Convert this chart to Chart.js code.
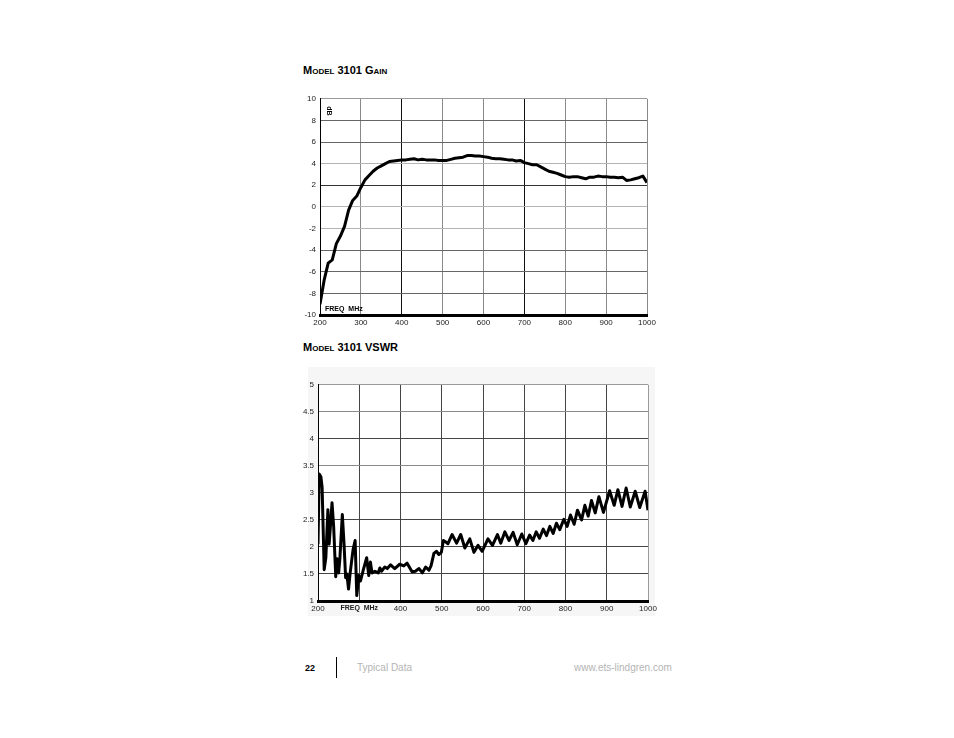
<!DOCTYPE html>
<html>
<head>
<meta charset="utf-8">
<script src="https://cdn.jsdelivr.net/npm/chart.js@4.4.1/dist/chart.umd.min.js"></script>
<style>
    body { margin: 0; background: #fff; width: 954px; height: 738px; position: relative; overflow: hidden;
           font-family: "Liberation Sans", Arial, sans-serif; }
    .title { position: absolute; left: 303px; font-size: 11px; font-weight: bold; font-variant: small-caps; color: #000; }
    .box { position: absolute; }
    .foot { position: absolute; top: 662px; font-size: 10px; }
</style>
</head>
<body>
<div class="title" style="top:64px">Model 3101 Gain</div>
<div class="box" style="left:290px; top:90px; width:372px; height:243px"><canvas id="gain-graph"></canvas></div>

<div class="title" style="top:341px">Model 3101 VSWR</div>
<div class="box" style="left:308px; top:367px; width:347px; height:249px; background:#f6f6f6"></div>
<div class="box" style="left:288px; top:376px; width:375px; height:243px"><canvas id="vswr-graph"></canvas></div>

<div class="foot" style="left:305px; font-weight:bold; font-size:9px; top:663px">22</div>
<div class="box" style="left:336px; top:657px; width:1px; height:21px; background:#000"></div>
<div class="foot" style="left:357px; color:#b4b4b4">Typical Data</div>
<div class="foot" style="left:574px; color:#b4b4b4">www.ets-lindgren.com</div>

<script>
// gain, dB vs MHz
const gainFreq = [200, 210, 220, 230, 240, 250, 260, 270, 280, 290,
    300, 310, 320, 330, 340, 350, 360, 370, 380, 390,
    400, 410, 420, 430, 440, 450, 460, 470, 480, 490,
    500, 510, 520, 530, 540, 550, 560, 570, 580, 590,
    600, 610, 620, 630, 640, 650, 660, 670, 680, 690,
    700, 710, 720, 730, 740, 750, 760, 770, 780, 790,
    800, 810, 820, 830, 840, 850, 860, 870, 880, 890,
    900, 910, 920, 930, 940, 950, 960, 970, 980, 990, 1000];
const gainDb = [-9.0, -6.8, -5.2, -4.9, -3.4, -2.7, -1.8, -0.3, 0.6, 1.0,
    1.8, 2.5, 2.9, 3.3, 3.6, 3.8, 4.0, 4.2, 4.25, 4.3,
    4.35, 4.35, 4.4, 4.45, 4.35, 4.4, 4.35, 4.35, 4.35, 4.3,
    4.3, 4.3, 4.4, 4.5, 4.55, 4.6, 4.75, 4.75, 4.7, 4.7,
    4.65, 4.6, 4.5, 4.45, 4.45, 4.4, 4.35, 4.35, 4.25, 4.3,
    4.1, 4.0, 3.9, 3.9, 3.7, 3.5, 3.3, 3.2, 3.1, 2.95,
    2.8, 2.75, 2.8, 2.8, 2.7, 2.6, 2.75, 2.75, 2.85, 2.8,
    2.8, 2.75, 2.75, 2.7, 2.75, 2.45, 2.5, 2.6, 2.7, 2.85, 2.25];

// vswr vs MHz
const vswrFreq = [200, 203, 207, 210, 215, 219, 224, 227, 230, 234,
    238, 243, 246, 250, 253, 259, 263, 267, 270, 274,
    278, 285, 290, 294, 299, 303, 310, 318, 323, 327,
    331, 338, 346, 350, 354, 362, 368, 376, 386, 398,
    408, 416, 428, 436, 445, 453, 461, 469, 474, 481,
    487, 493, 499, 504, 510, 515, 525, 536, 546, 556,
    568, 578, 588, 598, 612, 623, 635, 643, 653, 663,
    673, 683, 694, 704, 713, 721, 729, 737, 746, 754,
    762, 770, 778, 786, 796, 804, 812, 821, 829, 839,
    847, 855, 863, 872, 881, 892, 907, 918, 927, 937,
    947, 957, 969, 980, 993, 1000];
const vswrValue = [2.05, 3.35, 3.3, 3.1, 1.58, 1.8, 2.69, 2.05, 2.37, 2.82,
    2.37, 1.45, 1.78, 1.52, 1.78, 2.6, 2.07, 1.43, 1.5, 1.22,
    1.52, 1.95, 2.12, 1.1, 1.47, 1.37, 1.58, 1.8, 1.47, 1.72,
    1.52, 1.55, 1.52, 1.61, 1.55, 1.63, 1.6, 1.67, 1.6, 1.68,
    1.65, 1.7, 1.54, 1.55, 1.6, 1.52, 1.63, 1.57, 1.65, 1.88,
    1.92, 1.86, 1.9, 2.12, 2.09, 2.06, 2.23, 2.07, 2.23, 1.98,
    2.15, 1.9, 2.03, 1.92, 2.15, 2.03, 2.23, 2.07, 2.28, 2.12,
    2.27, 2.04, 2.24, 2.06, 2.22, 2.12, 2.28, 2.16, 2.33, 2.21,
    2.38, 2.25, 2.44, 2.32, 2.51, 2.38, 2.59, 2.42, 2.68, 2.5,
    2.77, 2.57, 2.86, 2.63, 2.93, 2.64, 3.04, 2.77, 3.06, 2.75,
    3.09, 2.74, 3.03, 2.73, 3.03, 2.68];

const tickFont = { family: "'Liberation Sans Narrow', 'Liberation Sans', Arial", size: 8 };

function toPoints(xs, ys) {
    let pts = Array(xs.length);
    for (let i = 0; i < xs.length; i++) {
        pts[i] = { x: xs[i], y: ys[i] };
    }
    return pts;
}

function plainLabel(v) {
    return String(v);
}

// white plot area + text inside the plot
const plotDeco = {
    id: 'plotDeco',
    beforeDraw(chart) {
        let a = chart.chartArea;
        let ctx = chart.ctx;
        ctx.save();
        ctx.fillStyle = '#fff';
        ctx.fillRect(a.left, a.top, a.right - a.left, a.bottom - a.top);
        ctx.restore();
    },
    afterDraw(chart, args, opts) {
        if (!opts.inner) return;
        let a = chart.chartArea;
        let ctx = chart.ctx;
        ctx.save();
        ctx.fillStyle = '#000';
        ctx.font = "bold 7px 'Liberation Sans', Arial";
        ctx.textBaseline = 'alphabetic';
        ctx.fillText('FREQ  MHz', a.left + 5, a.bottom - 4);
        ctx.translate(a.left + 9, a.top + 12);
        ctx.rotate(Math.PI / 2);
        ctx.textAlign = 'center';
        ctx.textBaseline = 'middle';
        ctx.fillText('dB', 0, 0);
        ctx.restore();
    }
};

function buildGraph(id, pts, xGrid, yGrid, yOpts, xTicks, inner, topPad) {
    new Chart(document.getElementById(id), {
        type: 'line',
        data: {
            datasets: [{
                data: pts,
                borderColor: '#000',
                borderWidth: 3,
                pointRadius: 0,
                tension: 0,
                borderJoinStyle: 'round',
                fill: false
            }]
        },
        options: {
            responsive: true,
            maintainAspectRatio: false,
            animation: false,
            layout: { padding: { top: topPad, right: 15, left: 0, bottom: 0 } },
            plugins: {
                legend: { display: false },
                tooltip: { enabled: false },
                plotDeco: { inner: inner }
            },
            scales: {
                x: {
                    type: 'linear',
                    min: 200,
                    max: 1000,
                    afterFit: function (s) { s.height = 18; },
                    ticks: Object.assign({ stepSize: 100, color: '#222', padding: 3, maxRotation: 0, callback: plainLabel }, xTicks),
                    grid: { color: xGrid, lineWidth: 1, drawTicks: false },
                    border: { display: true, color: '#000', width: 3 }
                },
                y: Object.assign({
                    afterFit: function (s) { s.width = 30; },
                    grid: { color: yGrid, lineWidth: 1, drawTicks: false },
                    border: { display: true, color: '#000', width: 1 }
                }, yOpts)
            }
        },
        plugins: [plotDeco]
    });
}

buildGraph('gain-graph', toPoints(gainFreq, gainDb),
    function (c) {
        let v = c.tick.value;
        if (v == 400 || v == 700) return '#111';
        return '#8a8a8a';
    },
    function (c) {
        let v = c.tick.value;
        if (v == 2) return '#333';
        if (v == 4 || v == 0 || v == -2) return '#b4b4b4';
        if (v == 10) return '#9a9a9a';
        return '#666';
    },
    {
        min: -10, max: 10,
        ticks: { stepSize: 2, color: '#222', font: tickFont, padding: 4, callback: plainLabel }
    },
    { font: tickFont },
    true, 7);

buildGraph('vswr-graph', toPoints(vswrFreq, vswrValue),
    function (c) {
        if (c.tick.value == 1000) return '#9a9a9a';
        return '#444';
    },
    function (c) {
        let v = c.tick.value;
        if (v == 5) return '#9a9a9a';
        if (v == 4.5 || v == 3.5) return '#8a8a8a';
        return '#444';
    },
    {
        min: 1, max: 5,
        ticks: { stepSize: 0.5, color: '#222', font: tickFont, padding: 4, callback: plainLabel }
    },
    {
        callback: function (v) { return v == 300 ? 'FREQ  MHz' : String(v); },
        font: function (c) {
            if (c.tick && c.tick.value == 300) {
                return { family: "'Liberation Sans', Arial", size: 7, weight: 'bold' };
            }
            return tickFont;
        }
    },
    false, 7);
</script>
</body>
</html>
